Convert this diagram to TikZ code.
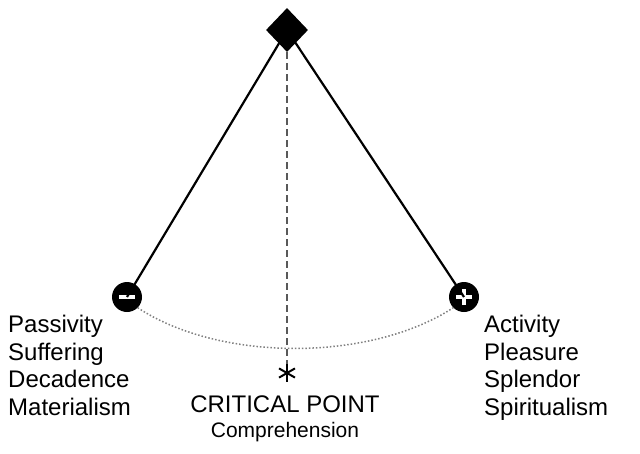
\documentclass[tikz,border=0pt]{standalone}
\usepackage{fontspec}
\setmainfont{Liberation Sans}
\usetikzlibrary{shapes.geometric}
\begin{document}
\begin{tikzpicture}[x=1pt,y=-1pt,
  lbl/.style={font=\fontsize{24}{27.5}\selectfont,align=left,inner sep=0},
  bob/.style={circle,fill=black,minimum size=30pt,inner sep=0},
  sign/.style={white,line width=3.5pt}]
\fill[white] (0,0) rectangle (640,453);
\node[diamond,fill=black,minimum width=42pt,minimum height=44pt,inner sep=0] (top) at (287,30) {};
\node[bob] (minus) at (127,297) {};
\node[bob] (plus) at (464,297) {};
\draw[sign] ([xshift=-8pt]minus.center) -- ([xshift=8pt]minus.center);
\draw[sign] ([xshift=-8pt]plus.center) -- ([xshift=8pt]plus.center);
\draw[sign] ([yshift=-8pt]plus.center) -- ([yshift=8pt]plus.center);
\node[circle,minimum size=18pt,inner sep=0] (star) at (287,373) {};
\foreach \a in {90,30,150} \draw[line width=2pt] (star.\a) -- (star.\a+180);
\draw[line width=2.2pt] (top.center) -- (minus.center);
\draw[line width=2.2pt] (top.center) -- (plus.center);
\draw[gray!70!black,line width=2pt,dash pattern=on 7pt off 4pt] (top.south) -- (star.north);
\draw[dotted,gray,line width=1.5pt] (minus.south east) .. controls (220,362) and (370,362) .. (plus.south west);
\node[lbl,anchor=north west] (l) at (8,315) {Passivity\\Suffering\\Decadence\\Materialism};
\node[lbl,anchor=north west] (r) at (484,315) {Activity\\Pleasure\\Splendor\\Spiritualism};
\node[font=\fontsize{24}{24}\selectfont,inner sep=0] (cp) at (285,404) {CRITICAL POINT};
\node[font=\fontsize{21}{21}\selectfont,inner sep=0] (co) at (285,432) {Comprehension};
\end{tikzpicture}
\end{document}
